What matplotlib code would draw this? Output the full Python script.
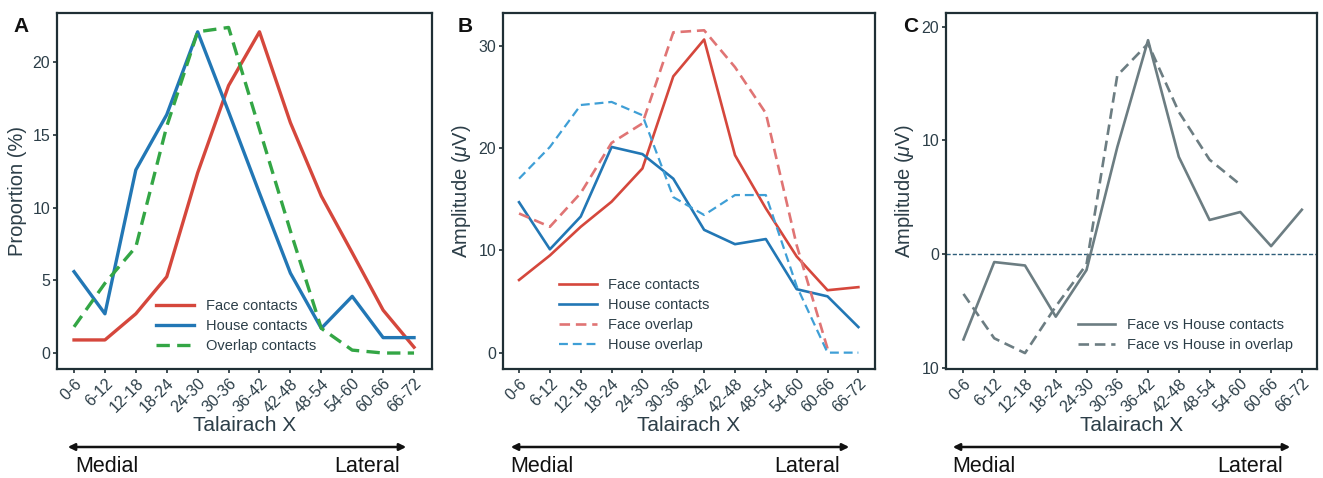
import matplotlib
matplotlib.use("Agg")
import matplotlib.pyplot as plt
from matplotlib.patches import FancyArrowPatch
import numpy as np

plt.rcParams["font.family"] = ["Liberation Sans", "DejaVu Sans"]
plt.rcParams["mathtext.fontset"] = "custom"
plt.rcParams["mathtext.it"] = "Liberation Sans:italic"
plt.rcParams["mathtext.rm"] = "Liberation Sans"

bins = ["0-6", "6-12", "12-18", "18-24", "24-30", "30-36", "36-42",
        "42-48", "48-54", "54-60", "60-66", "66-72"]

# panel A: proportion (%)
a_face = [0.9, 0.9, 2.7, 5.25, 12.4, 18.4, 22.1, 15.85, 10.8, 6.9, 2.95, 0.4]
a_house = [5.6, 2.7, 12.6, 16.4, 22.1, 16.6, 11.0, 5.5, 1.7, 3.9, 1.06, 1.06]
a_overlap = [1.8, 4.8, 7.3, 15.6, 22.1, 22.4, 15.4, 8.4, 1.7, 0.2, 0.0, 0.0]

# panel B: amplitude (uV)
b_face = [7.1, 9.5, 12.3, 14.75, 18.0, 27.0, 30.6, 19.3, 14.1, 9.4, 6.1, 6.4]
b_house = [14.7, 10.1, 13.3, 20.1, 19.4, 17.0, 12.0, 10.6, 11.1, 6.2, 5.5, 2.5]
b_face_ov = [13.6, 12.3, 15.6, 20.5, 22.4, 31.3, 31.5, 27.9, 23.4, 10.5, 0.4]
b_house_ov = [17.0, 20.1, 24.2, 24.5, 23.2, 15.2, 13.45, 15.4, 15.4, 6.5, 0.0, 0.0]

# panel C: difference (uV)
c_contacts = [-7.5, -0.7, -1.0, -5.5, -1.4, 9.4, 18.8, 8.55, 3.0, 3.7, 0.7, 3.9]
c_overlap = [-3.5, -7.4, -8.7, -4.6, -0.9, 15.7, 18.5, 12.5, 8.3, 6.1]

red = "#d5473c"
blue = "#2277b5"
green = "#33a645"
red_l = "#e07474"
blue_l = "#3f9fd6"
gray = "#6c7d82"
dark = "#1f2f35"
tcol = "#2c3e48"

fig = plt.figure(figsize=(13.23, 4.78), dpi=100)
axA = fig.add_axes([0.0431, 0.228, 0.2834, 0.745])
axB = fig.add_axes([0.3802, 0.228, 0.2812, 0.745])
axC = fig.add_axes([0.7150, 0.228, 0.2804, 0.745])

x = np.arange(len(bins))

axA.plot(x, a_face, "-", color=red, lw=2.4, label="Face contacts")
axA.plot(x, a_house, "-", color=blue, lw=2.4, label="House contacts")
axA.plot(x, a_overlap, "--", color=green, lw=2.4, dashes=(4, 2.2), label="Overlap contacts")
axA.set_ylim(-1.1, 23.4)
axA.set_yticks([0, 5, 10, 15, 20])
axA.set_ylabel("Proportion (%)", fontsize=14.5, color=tcol, labelpad=4)
axA.legend(loc="lower left", bbox_to_anchor=(0.245, 0.025), frameon=False,
           fontsize=10.5, handlelength=2.6, borderpad=0, labelspacing=0.4,
           handletextpad=0.8, labelcolor=tcol)

axB.plot(x, b_face, "-", color=red, lw=1.9, label="Face contacts")
axB.plot(x, b_house, "-", color=blue, lw=1.9, label="House contacts")
axB.plot(x[:len(b_face_ov)], b_face_ov, "--", color=red_l, lw=1.9, dashes=(4, 2.2), label="Face overlap")
axB.plot(x, b_house_ov, "--", color=blue_l, lw=1.6, dashes=(4, 2.2), label="House overlap")
axB.set_ylim(-1.6, 33.2)
axB.set_yticks([0, 10, 20, 30])
axB.set_ylabel("Amplitude ($\\mu$V)", fontsize=14.5, color=tcol, labelpad=4)
axB.legend(loc="lower left", bbox_to_anchor=(0.13, 0.028), frameon=False,
           fontsize=10.5, handlelength=2.6, borderpad=0, labelspacing=0.4,
           handletextpad=0.8, labelcolor=tcol)

axC.axhline(0, color="#2e5e7a", lw=1.0, ls=(0, (3, 1.5)))
axC.plot(x, c_contacts, "-", color=gray, lw=1.9, label="Face vs House contacts")
axC.plot(x[:len(c_overlap)], c_overlap, "--", color=gray, lw=1.9, dashes=(4, 2.2),
         label="Face vs House in overlap")
axC.set_ylim(-10.1, 21.2)
axC.set_yticks([-10, 0, 10, 20])
axC.set_yticklabels(["10", "0", "10", "20"])
axC.set_ylabel("Amplitude ($\\mu$V)", fontsize=14.5, color=tcol, labelpad=4)
axC.legend(loc="lower left", bbox_to_anchor=(0.335, 0.028), frameon=False,
           fontsize=10.5, handlelength=2.6, borderpad=0, labelspacing=0.4,
           handletextpad=0.8, labelcolor=tcol)

for ax, (l, r) in zip([axA, axB, axC], [(-0.55, 11.58), (-0.52, 11.54), (-0.57, 11.49)]):
    ax.set_xlim(l, r)
    ax.set_xticks(x)
    ax.set_xticklabels(bins, rotation=45, ha="right", rotation_mode="anchor")
    ax.tick_params(direction="out", length=3, width=1.2, colors=dark,
                   labelsize=11.5, labelcolor=tcol, pad=2)
    ax.set_xlabel("Talairach X", fontsize=15, color=tcol, labelpad=0)
    for s in ax.spines.values():
        s.set_linewidth(1.6)
        s.set_color(dark)

# panel letters
for lab, xp in zip(["A", "B", "C"], [0.010, 0.346, 0.683]):
    fig.text(xp, 0.945, lab, fontsize=15, fontweight="bold", color="#111111",
             ha="left", va="center")

# medial/lateral arrows
W, H = 1323, 478
for x0, x1, m, lt in [(65, 409, 75, 400), (508, 852, 510, 840), (950, 1293, 952, 1283)]:
    arr = FancyArrowPatch((x0 / W, 1 - 447 / H), (x1 / W, 1 - 447 / H),
                          transform=fig.transFigure, arrowstyle="<|-|>",
                          mutation_scale=10, lw=1.8, color="#111111")
    fig.add_artist(arr)
    fig.text(m / W, 1 - 466 / H, "Medial", fontsize=15.5, color="#111111",
             ha="left", va="center")
    fig.text(lt / W, 1 - 466 / H, "Lateral", fontsize=15.5, color="#111111",
             ha="right", va="center")

fig.savefig("out.png", dpi=100)
